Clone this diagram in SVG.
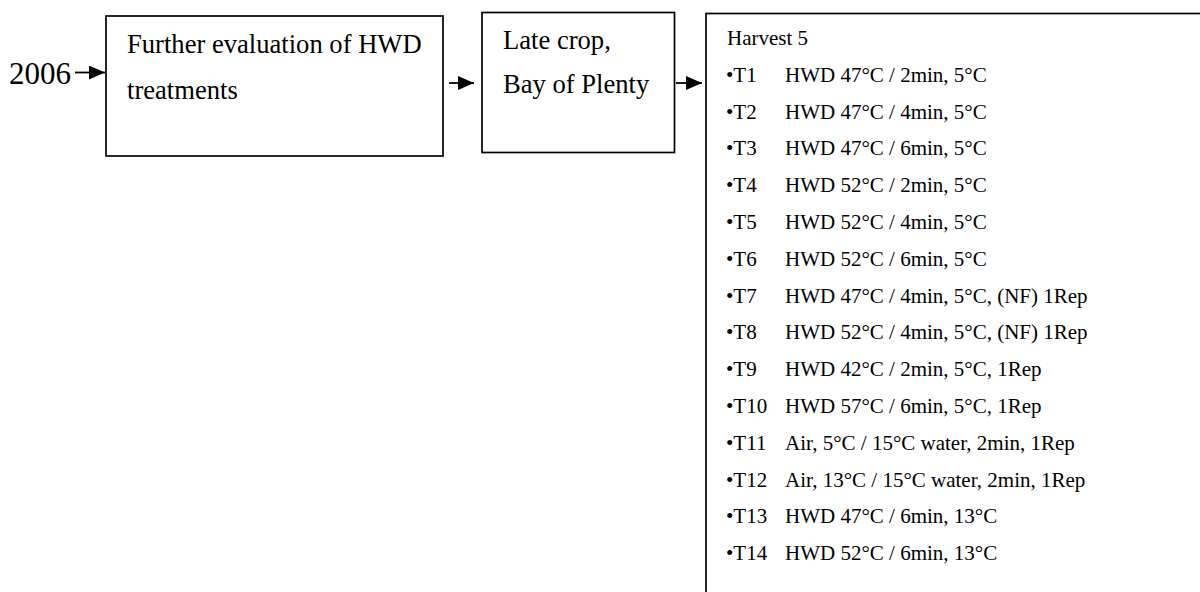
<svg xmlns="http://www.w3.org/2000/svg" width="1200" height="592" viewBox="0 0 1200 592">
  <defs>
    <marker id="arrow" markerUnits="userSpaceOnUse" markerWidth="17" markerHeight="15" refX="16" refY="7" orient="auto">
      <path d="M0,0 L16,7 L0,14 Z" fill="#000"/>
    </marker>
    <style>
      .box { fill: #fff; stroke: #000; stroke-width: 1.7; }
      .t { font-family: "Liberation Serif", "Times New Roman", serif; fill: #000; }
      .big { font-size: 26.6px; }
      .small { font-size: 21px; }
      .conn { stroke: #000; stroke-width: 1.8; fill: none; marker-end: url(#arrow); }
    </style>
  </defs>
  <rect width="1200" height="592" fill="#fff"/>

  <g id="year">
    <text class="t" x="9" y="83.5" font-size="31">2006</text>
  </g>

  <g id="node-evaluation">
    <rect class="box" x="106" y="16" width="337" height="140"/>
    <text class="t big" x="127" y="52.5">Further evaluation of HWD</text>
    <text class="t big" x="127" y="98.5">treatments</text>
  </g>

  <g id="node-crop">
    <rect class="box" x="482" y="12.5" width="192.5" height="140"/>
    <text class="t big" x="503" y="49">Late crop,</text>
    <text class="t big" x="503" y="92.5">Bay of Plenty</text>
  </g>

  <g id="node-harvest">
    <rect class="box" x="706" y="13.5" width="620" height="700"/>
    <g class="t small">
      <text x="727" y="45">Harvest 5</text>
      <text x="726" y="81.8">•T1</text><text x="785" y="81.8">HWD 47°C / 2min, 5°C</text>
      <text x="726" y="118.6">•T2</text><text x="785" y="118.6">HWD 47°C / 4min, 5°C</text>
      <text x="726" y="155.4">•T3</text><text x="785" y="155.4">HWD 47°C / 6min, 5°C</text>
      <text x="726" y="192.2">•T4</text><text x="785" y="192.2">HWD 52°C / 2min, 5°C</text>
      <text x="726" y="229">•T5</text><text x="785" y="229">HWD 52°C / 4min, 5°C</text>
      <text x="726" y="265.8">•T6</text><text x="785" y="265.8">HWD 52°C / 6min, 5°C</text>
      <text x="726" y="302.6">•T7</text><text x="785" y="302.6">HWD 47°C / 4min, 5°C, (NF) 1Rep</text>
      <text x="726" y="339.4">•T8</text><text x="785" y="339.4">HWD 52°C / 4min, 5°C, (NF) 1Rep</text>
      <text x="726" y="376.2">•T9</text><text x="785" y="376.2">HWD 42°C / 2min, 5°C, 1Rep</text>
      <text x="726" y="413">•T10</text><text x="785" y="413">HWD 57°C / 6min, 5°C, 1Rep</text>
      <text x="726" y="449.8">•T11</text><text x="785" y="449.8">Air, 5°C / 15°C water, 2min, 1Rep</text>
      <text x="726" y="486.6">•T12</text><text x="785" y="486.6">Air, 13°C / 15°C water, 2min, 1Rep</text>
      <text x="726" y="523.4">•T13</text><text x="785" y="523.4">HWD 47°C / 6min, 13°C</text>
      <text x="726" y="560.2">•T14</text><text x="785" y="560.2">HWD 52°C / 6min, 13°C</text>
    </g>
  </g>

  <g id="connectors">
    <line class="conn" x1="75" y1="72.5" x2="105" y2="72.5"/>
    <line class="conn" x1="449" y1="83" x2="474" y2="83"/>
    <line class="conn" x1="676" y1="83" x2="702" y2="83"/>
  </g>
</svg>
